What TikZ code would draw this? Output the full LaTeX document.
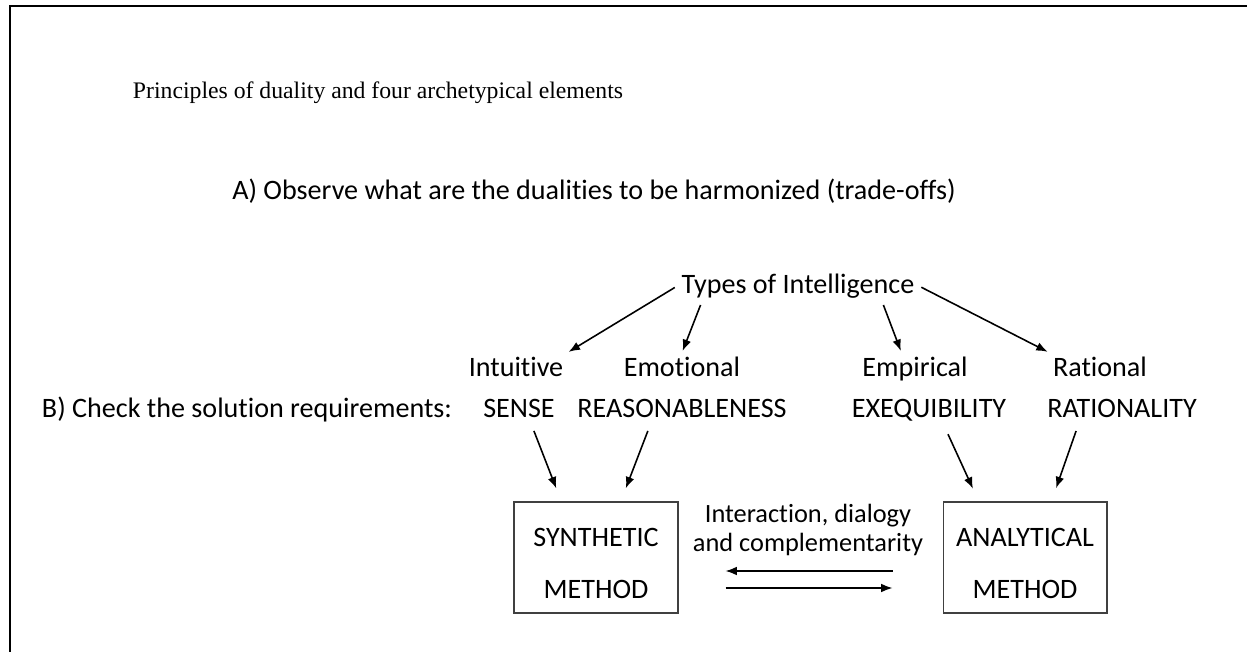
\documentclass[tikz,border=0pt]{standalone}
\usepackage{fontspec}
\setmainfont{Carlito}[Ligatures=NoCommon]
\newfontfamily\titlefont{Liberation Serif}
\usetikzlibrary{calc,arrows.meta}
\begin{document}
\begin{tikzpicture}[x=0.02cm,y=-0.02cm,>={Latex[length=6.5pt,width=5pt]},
  lbl/.style={anchor=base, inner sep=2pt, font=\fontsize{16}{19}\selectfont},
  method/.style={draw=black!75, line width=0.6pt, minimum width=3.28cm, minimum height=2.22cm, align=center, inner sep=0pt, font=\fontsize{16}{29.5}\selectfont},
  sort/.style={->, line width=0.9pt, shorten <=2pt, shorten >=1pt},
  feed/.style={->, line width=0.9pt, shorten <=6pt, shorten >=8pt}]
\useasboundingbox (0,0) rectangle (1247,652);
\draw[line width=1.3pt] (10,652) -- (10,6) -- (1247,6);
\node[lbl, font=\titlefont\fontsize{13.5}{16}\selectfont] (title) at (378,99) {Principles of duality and four archetypical elements};
\node[lbl] (stepA) at (594,199) {A) Observe what are the dualities to be harmonized (trade-offs)};
\node[lbl] (types) at (798,293) {Types of Intelligence};
\node[lbl] (intuitive) at (516,376) {Intuitive};
\node[lbl] (emotional) at (682,376) {Emotional};
\node[lbl] (empirical) at (915,376) {Empirical};
\node[lbl] (rational) at (1100,376) {Rational};
\node[lbl] (stepB) at (247,417) {B) Check the solution requirements:};
\node[lbl] (sense) at (519,417) {SENSE};
\node[lbl] (reason) at (682,417) {REASONABLENESS};
\node[lbl] (exeq) at (929,417) {EXEQUIBILITY};
\node[lbl] (ration) at (1122,417) {RATIONALITY};
\node[method] (synth) at (596,557.5) {\rule{0pt}{17pt}SYNTHETIC\\METHOD};
\node[method] (anal) at (1025,557.5) {\rule{0pt}{17pt}ANALYTICAL\\METHOD};
\node[align=center, inner sep=0pt, font=\fontsize{15}{16.4}\selectfont] (dialog) at (808,530) {Interaction, dialogy\\and complementarity};
\draw[sort] (types.west) -- (intuitive.north east);
\draw[sort] ($(types.south west)!.1!(types.south east)$) -- (emotional.north);
\draw[sort] ($(types.south west)!.85!(types.south east)$) -- ($(empirical.north west)!.38!(empirical.north east)$);
\draw[sort] (types.east) -- (rational.north west);
\draw[feed] ($(sense.south west)!.64!(sense.south east)$) -- ($(synth.north west)!.29!(synth.north east)$);
\draw[feed] ($(reason.south west)!.36!(reason.south east)$) -- ($(synth.north west)!.65!(synth.north east)$);
\draw[feed] ($(exeq.south west)!.59!(exeq.south east)$) -- ($(anal.north west)!.22!(anal.north east)$);
\draw[feed] ($(ration.south west)!.23!(ration.south east)$) -- ($(anal.north west)!.66!(anal.north east)$);
\draw[->, line width=0.9pt, shorten <=1cm, shorten >=0.94cm] ([yshift=-0.27cm]anal.west) -- ([yshift=-0.27cm]synth.east);
\draw[->, line width=0.9pt, shorten <=0.94cm, shorten >=1cm] ([yshift=-0.61cm]synth.east) -- ([yshift=-0.61cm]anal.west);
\end{tikzpicture}
\end{document}
